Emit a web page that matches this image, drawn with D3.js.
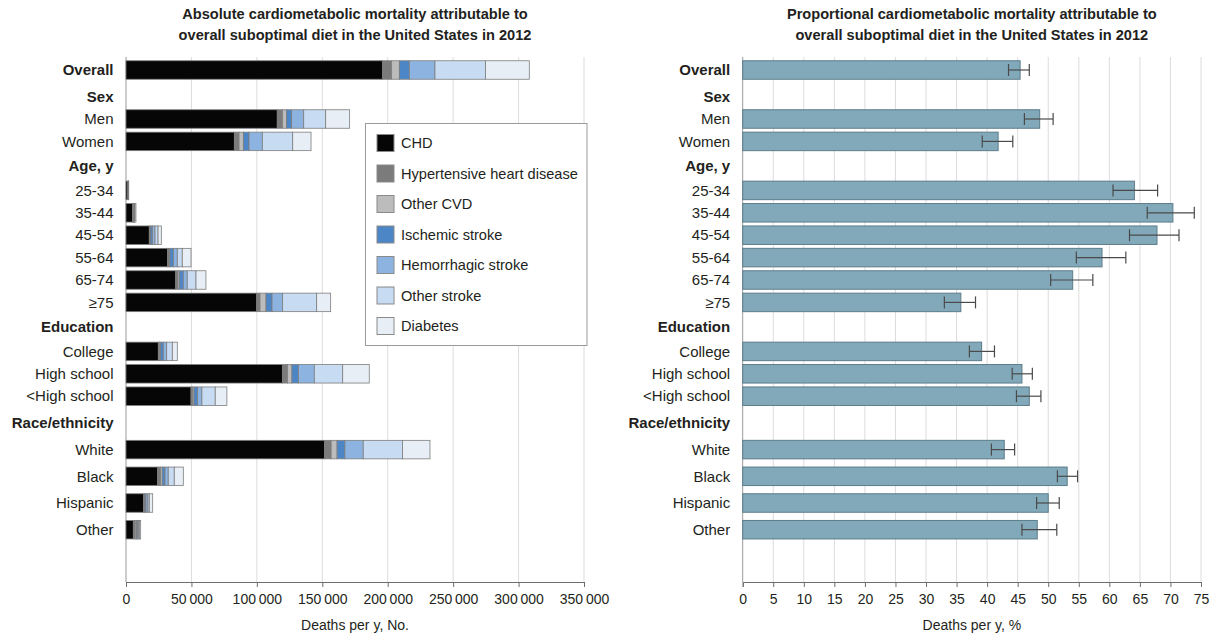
<!DOCTYPE html>
<html>
<head>
<meta charset="utf-8">
<script src="https://cdn.jsdelivr.net/npm/d3@7"></script>
<style>
  body { margin: 0; background: #fff; }
  svg text { font-family: "Liberation Sans", Arial, sans-serif; fill: #231f20; }
</style>
</head>
<body>
<svg id="chart" width="1224" height="639"></svg>
<script>
// Row groups, in display order
const sections = [
  { header: null,             rows: ["Overall"] },
  { header: "Sex",            rows: ["Men", "Women"] },
  { header: "Age, y",         rows: ["25-34", "35-44", "45-54", "55-64", "65-74", "≥75"] },
  { header: "Education",      rows: ["College", "High school", "<High school"] },
  { header: "Race/ethnicity", rows: ["White", "Black", "Hispanic", "Other"] }
];

// Absolute deaths per year, by cause (same row order as above)
const causes = ["CHD", "Hypertensive heart disease", "Other CVD", "Ischemic stroke",
                "Hemorrhagic stroke", "Other stroke", "Diabetes"];
const chd         = [196100,115600,82800,1500,4900,17800,31800,38000,99900,24700,119500,49700,151800,24200,13300,5600];
const hhd         = [6900,4100,3600,100,600,800,1200,1800,2500,1000,4000,1400,5000,2200,700,1500];
const otherCvd    = [5900,3100,3300,100,300,400,600,1000,4600,800,3300,900,4500,1300,500,1000];
const ischemic    = [7600,3800,4300,50,200,1200,2600,3000,4600,2000,4900,2700,6000,2100,800,600];
const hemorrhagic = [19600,9200,10200,150,500,2000,3000,3000,8100,2600,12200,3300,14000,2500,1500,800];
const otherStroke = [38700,16800,23200,50,400,2300,3800,6700,26000,4300,21700,10200,30000,4600,1000,700];
const diabetes    = [33400,18300,14000,150,700,2500,6700,7600,10700,3800,20300,8900,21000,6900,2600,1000];

// Proportional mortality (%) with uncertainty interval
const pct     = [45.4,48.6,41.8,64.1,70.4,67.8,58.8,54.0,35.7,39.1,45.7,46.9,42.8,53.1,50.0,48.2];
const pctLow  = [43.5,46.1,39.2,60.6,66.2,63.3,54.6,50.4,33.0,37.1,44.1,44.8,40.7,51.5,48.1,45.7];
const pctHigh = [46.9,50.8,44.2,67.9,73.9,71.4,62.7,57.3,38.1,41.2,47.4,48.8,44.5,54.8,51.8,51.4];

// Axis ticks
const absTicks = [0, 50000, 100000, 150000, 200000, 250000, 300000, 350000];
const pctTicks = d3.range(0, 76, 5);

const causeColors = ["#060606", "#7b7b7b", "#bcbcbc", "#4d86c6", "#8db3e0", "#c7dbf2", "#e7eef5"];

const titles = {
  left:  ["Absolute cardiometabolic mortality attributable to", "overall suboptimal diet in the United States in 2012"],
  right: ["Proportional cardiometabolic mortality attributable to", "overall suboptimal diet in the United States in 2012"]
};

// ---------- layout ----------
const svg = d3.select("#chart");
const plotTop = 57, axisY = 582, barH = 18.5;
const leftRange = [126, 584], rightRange = [742.7, 1201];

// vertical placement of rows and group headers: [gap before header, gap after header, row step]
const sectionGaps = [null, [26.5, 22.5, 22.4], [24.5, 24.5, 22.4], [24.5, 24.5, 22.4], [26.7, 26.7, 26.7]];
const rowKeys = [], rowY = new Map(), headers = [];
{
  let y = 70;
  sections.forEach((s, si) => {
    if (s.header) {
      const [before, after, step] = sectionGaps[si];
      y += before;
      headers.push({ label: s.header, y });
      y += after;
      s.rows.forEach((r, i) => { if (i > 0) y += step; rowKeys.push(r); rowY.set(r, y); });
    } else {
      s.rows.forEach(r => { rowKeys.push(r); rowY.set(r, y); });
    }
  });
}

const absRows = rowKeys.map((k, i) => ({
  key: k,
  "CHD": chd[i], "Hypertensive heart disease": hhd[i], "Other CVD": otherCvd[i],
  "Ischemic stroke": ischemic[i], "Hemorrhagic stroke": hemorrhagic[i],
  "Other stroke": otherStroke[i], "Diabetes": diabetes[i]
}));
const pctRows = rowKeys.map((k, i) => ({ key: k, v: pct[i], lo: pctLow[i], hi: pctHigh[i] }));

const xAbs = d3.scaleLinear().domain([0, 350000]).range(leftRange);
const xPct = d3.scaleLinear().domain([0, 75]).range(rightRange);
const color = d3.scaleOrdinal().domain(causes).range(causeColors);

const loc = d3.formatLocale({ decimal: ".", thousands: "\u2009", grouping: [3], currency: ["", ""] });
const fmtAbs = loc.format(",d");

function frame(x, ticks, fmt, title, axisLabel) {
  const g = svg.append("g");
  // grid
  g.selectAll("line.grid").data(ticks.slice(1)).join("line")
    .attr("x1", d => x(d)).attr("x2", d => x(d))
    .attr("y1", plotTop).attr("y2", axisY)
    .attr("stroke", "#dcdcdc").attr("stroke-width", 1);
  // left edge
  g.append("line").attr("x1", x.range()[0]).attr("x2", x.range()[0])
    .attr("y1", plotTop).attr("y2", axisY).attr("stroke", "#9a9a9a");
  // bottom axis
  const ax = g.append("g").attr("transform", `translate(0,${axisY})`)
    .call(d3.axisBottom(x).tickValues(ticks).tickFormat(fmt).tickSize(5).tickPadding(7));
  ax.select(".domain").attr("stroke", "#6d6d6d");
  ax.selectAll(".tick line").attr("stroke", "#6d6d6d");
  ax.selectAll(".tick text").attr("font-size", 14).attr("fill", "#231f20")
    .attr("font-family", '"Liberation Sans", Arial, sans-serif');
  const cx = (x.range()[0] + x.range()[1]) / 2;
  g.append("text").attr("x", cx).attr("y", 630).attr("text-anchor", "middle")
    .attr("font-size", 14).text(axisLabel);
  // title
  g.selectAll("text.title").data(title).join("text")
    .attr("x", cx).attr("y", (d, i) => 19 + i * 20.5)
    .attr("text-anchor", "middle").attr("font-size", 14.6).attr("font-weight", "bold")
    .attr("fill", "#2a2a2a")
    .text(d => d);
  // row labels and headers
  const lx = x.range()[0] - 12.5;
  g.selectAll("text.row").data(rowKeys).join("text")
    .attr("x", lx).attr("y", d => rowY.get(d)).attr("dy", "0.35em")
    .attr("text-anchor", "end").attr("font-size", 15)
    .attr("font-weight", d => d === "Overall" ? "bold" : "normal")
    .text(d => d);
  g.selectAll("text.head").data(headers).join("text")
    .attr("x", lx).attr("y", d => d.y).attr("dy", "0.35em")
    .attr("text-anchor", "end").attr("font-size", 15).attr("font-weight", "bold")
    .text(d => d.label);
  return g;
}

// ---------- left: stacked absolute deaths ----------
const gl = frame(xAbs, absTicks, d => d === 0 ? "0" : fmtAbs(d), titles.left, "Deaths per y, No.");
const stack = d3.stack().keys(causes)(absRows);
gl.append("g").selectAll("g").data(stack).join("g")
  .attr("fill", d => color(d.key))
  .selectAll("rect").data(d => d).join("rect")
  .attr("x", d => xAbs(d[0]))
  .attr("width", d => xAbs(d[1]) - xAbs(d[0]))
  .attr("y", d => rowY.get(d.data.key) - barH / 2)
  .attr("height", barH)
  .attr("stroke", "#7d7d7d").attr("stroke-width", 0.8);

// legend
const lg = gl.append("g");
lg.append("rect").attr("x", 365.5).attr("y", 123.5).attr("width", 221.5).attr("height", 222)
  .attr("fill", "#fff").attr("stroke", "#9a9a9a");
const li = lg.selectAll("g.item").data(causes).join("g")
  .attr("transform", (d, i) => `translate(377,${143 + i * 30.5})`);
li.append("rect").attr("x", 0).attr("y", -8.5).attr("width", 17).attr("height", 17)
  .attr("fill", d => color(d)).attr("stroke", "#8a8a8a");
li.append("text").attr("x", 24).attr("dy", "0.35em").attr("font-size", 14.6).text(d => d);

// ---------- right: proportional deaths with intervals ----------
const gr = frame(xPct, pctTicks, d3.format("d"), titles.right, "Deaths per y, %");
gr.append("g").selectAll("rect").data(pctRows).join("rect")
  .attr("x", xPct(0)).attr("width", d => xPct(d.v) - xPct(0))
  .attr("y", d => rowY.get(d.key) - barH / 2).attr("height", barH)
  .attr("fill", "#82a9ba").attr("stroke", "#5c7c8a").attr("stroke-width", 1);
const eb = gr.append("g").attr("stroke", "#4a4a4a").attr("stroke-width", 1.2)
  .selectAll("g").data(pctRows).join("g");
eb.append("line").attr("x1", d => xPct(d.lo)).attr("x2", d => xPct(d.hi))
  .attr("y1", d => rowY.get(d.key)).attr("y2", d => rowY.get(d.key));
eb.append("line").attr("x1", d => xPct(d.lo)).attr("x2", d => xPct(d.lo))
  .attr("y1", d => rowY.get(d.key) - 6).attr("y2", d => rowY.get(d.key) + 6);
eb.append("line").attr("x1", d => xPct(d.hi)).attr("x2", d => xPct(d.hi))
  .attr("y1", d => rowY.get(d.key) - 6).attr("y2", d => rowY.get(d.key) + 6);
</script>
</body>
</html>
